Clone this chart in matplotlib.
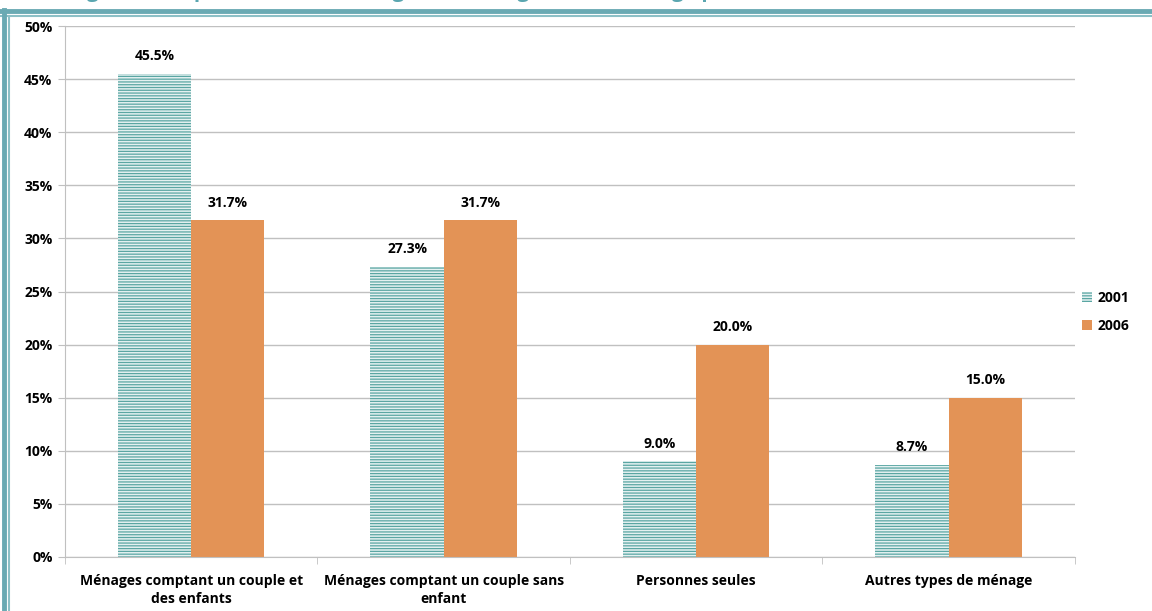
import numpy as np
import matplotlib.pyplot as plt
from matplotlib.lines import Line2D
from matplotlib.ticker import FixedLocator

plt.rcParams['font.family'] = ['Open Sans', 'DejaVu Sans']
plt.rcParams['hatch.linewidth'] = 0.9

categories = ['Ménages comptant un couple et\ndes enfants',
              'Ménages comptant un couple sans\nenfant',
              'Personnes seules',
              'Autres types de ménage']
years = ['2001', '2006']
share_2001 = [45.5, 27.3, 9.0, 8.7]
share_2006 = [31.7, 31.7, 20.0, 15.0]
yticks = [0, 5, 10, 15, 20, 25, 30, 35, 40, 45, 50]

teal = '#5aa6a3'
orange = '#e39356'
grid = '#c0c0c0'
fs = 10

fig = plt.figure(figsize=(11.52, 6.11), dpi=100)
ax = fig.add_axes([0.0564, 0.0884, 0.8766, 0.869])

x = np.arange(len(categories))
w = 0.29
b1 = ax.bar(x - w / 2, share_2001, w, facecolor='#e4f1f1', edgecolor=teal,
            hatch='------', linewidth=0, label=years[0])
b2 = ax.bar(x + w / 2, share_2006, w, color=orange, label=years[1])

for bars, vals in ((b1, share_2001), (b2, share_2006)):
    for r, v in zip(bars, vals):
        ax.text(r.get_x() + r.get_width() / 2, v + 1.0, f'{v:.1f}%',
                ha='center', va='bottom', fontsize=fs, fontweight='bold')

ax.set_xlim(-0.5, len(categories) - 0.5)
ax.set_ylim(0, 50)
ax.set_yticks(yticks)
ax.set_yticklabels([f'{t}%' for t in yticks], fontsize=fs, fontweight='bold')
ax.set_xticks(x)
ax.set_xticklabels(categories, fontsize=fs, fontweight='bold', linespacing=1.4)
ax.xaxis.set_minor_locator(FixedLocator(np.arange(-0.5, len(categories), 1.0)))
ax.tick_params(axis='x', which='major', length=0, pad=12)
ax.tick_params(axis='x', which='minor', length=5, color=grid)
ax.tick_params(axis='y', length=5, color=grid, pad=4)

ax.yaxis.grid(True, color=grid, linewidth=1)
ax.set_axisbelow(True)
for s in ('top', 'right'):
    ax.spines[s].set_visible(False)
for s in ('left', 'bottom'):
    ax.spines[s].set_color(grid)

ax.legend(loc='center left', bbox_to_anchor=(0.995, 0.462), frameon=False,
          handlelength=0.7, handleheight=0.7, handletextpad=0.4,
          labelspacing=1.0, prop={'weight': 'bold', 'size': fs})

# heading sits mostly above the frame, only descenders show
fig.text(0.06, 1.0 + 3.0 / 611, 'Figure 3 : Répartition des ménages selon le genre de ménage privé, 2001 et 2006',
         color='#5aa6b0', fontsize=15, fontweight='bold', va='baseline', ha='left')

# double frame lines, top and left
fig.add_artist(Line2D([0.0, 1.0], [0.9815, 0.9815], transform=fig.transFigure,
                      color='#6aaab3', linewidth=3.5))
fig.add_artist(Line2D([0.0, 1.0], [0.9735, 0.9735], transform=fig.transFigure,
                      color='#8cc0c6', linewidth=1.5))
fig.add_artist(Line2D([0.0035, 0.0035], [0.0, 0.984], transform=fig.transFigure,
                      color='#6aaab3', linewidth=3.5))
fig.add_artist(Line2D([0.0078, 0.0078], [0.0, 0.9745], transform=fig.transFigure,
                      color='#8cc0c6', linewidth=1.5))

fig.savefig('out.png', dpi=100)
